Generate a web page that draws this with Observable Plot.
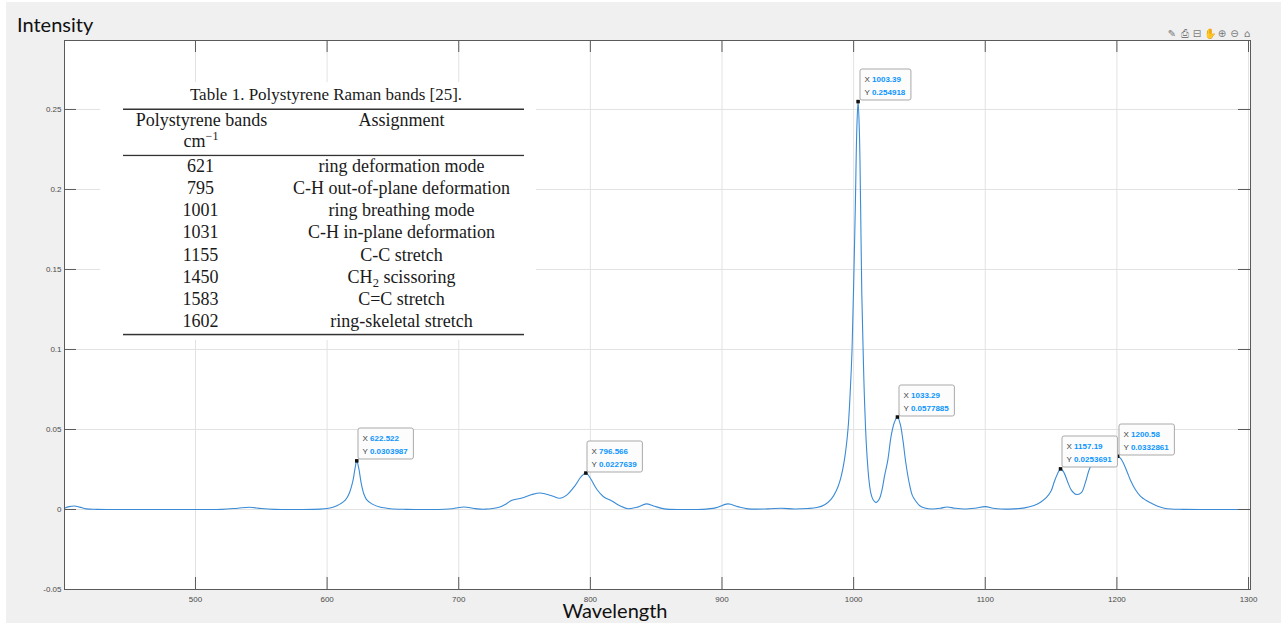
<!DOCTYPE html>
<html>
<head>
<meta charset="utf-8">
<script src="https://cdn.jsdelivr.net/npm/d3@7"></script>
<script src="https://cdn.jsdelivr.net/npm/@observablehq/plot@0.6"></script>
<style>
  html, body { margin: 0; padding: 0; background: #ffffff; width: 1281px; height: 627px; overflow: hidden; }
  #bg { position: absolute; left: 6px; top: 2px; width: 1275px; height: 621px; background: #f0f0f0; }
  #chart { position: absolute; left: 0; top: 0; }
  #overlay { position: absolute; left: 0; top: 0; pointer-events: none; }
</style>
</head>
<body>
<div id="bg"></div>
<div id="chart"></div>
<script>
// ---------- data ----------
const wavenumber = [
  400.5, 404, 408, 412, 417, 425, 440, 460, 480, 500, 520, 532, 541, 550, 560, 580, 595,
  600, 605, 610, 614, 617, 619.5, 621.5, 622.5, 624, 626, 628, 630, 634, 640, 648, 660, 680,
  695, 704, 712, 720, 730, 736, 740, 748, 755, 762, 770, 777, 782, 788, 793, 796.6, 800, 805,
  810, 816, 822, 828.5, 836, 842.5, 848, 856, 870, 885, 895, 904.5, 912, 920, 935, 945, 955,
  965, 972, 978, 983, 987, 990, 993, 995.7, 997.5, 998.8, 1000, 1001.3, 1002.5, 1003.4, 1004.4,
  1005.3, 1006.2, 1007.2, 1008, 1009.1, 1010.3, 1011.6, 1013, 1014.7, 1017, 1019.5, 1021.5,
  1023.5, 1026, 1028.5, 1031, 1033.3, 1035.5, 1037.5, 1039.5, 1042, 1044.5, 1047, 1050, 1054,
  1060, 1066, 1071, 1077, 1084, 1092, 1100, 1106, 1112, 1122, 1130, 1137, 1142, 1146.5, 1150,
  1152.5, 1155, 1157.2, 1159.5, 1162.4, 1165.5, 1169.3, 1173, 1176.3, 1179, 1182, 1185, 1189,
  1193, 1197, 1200.6, 1203, 1205.5, 1208, 1210.5, 1214, 1218, 1222, 1226, 1231, 1236, 1241,
  1250, 1270, 1290, 1301.5
];
const intensity = [
  0.0008, 0.0018, 0.0022, 0.0015, 0.0004, 0.0001, 0, 0, 0, 0, 0.0001, 0.0008, 0.0014, 0.0006, 0.0001, 0, 0.0002,
  0.0006, 0.0015, 0.0035, 0.006, 0.0105, 0.0175, 0.027, 0.0304, 0.026, 0.016, 0.0095, 0.0062, 0.0035, 0.0015, 0.0005, 0.0001, 0,
  0.0005, 0.0016, 0.0006, 0.0002, 0.0012, 0.0035, 0.0056, 0.0072, 0.0092, 0.0103, 0.0088, 0.007, 0.009, 0.0145, 0.0205, 0.0228, 0.0195, 0.0125,
  0.008, 0.0055, 0.0025, 0.0005, 0.0015, 0.0035, 0.0022, 0.0004, 0, 0.0001, 0.001, 0.0035, 0.0018, 0.0004, 0.0004, 0.0008, 0.0003,
  0.0006, 0.0012, 0.003, 0.0065, 0.012, 0.019, 0.031, 0.05, 0.075, 0.1, 0.14, 0.19, 0.24, 0.2549, 0.235,
  0.19, 0.135, 0.1, 0.075, 0.05, 0.032, 0.0187, 0.0105, 0.0062, 0.0043, 0.0065, 0.012,
  0.021, 0.031, 0.046, 0.0545, 0.0578, 0.053, 0.043, 0.03, 0.0175, 0.009, 0.0055, 0.0025, 0.0009,
  0.0003, 0.0008, 0.0016, 0.0008, 0.0003, 0.0008, 0.0018, 0.0008, 0.0003, 0.0004, 0.001, 0.0025, 0.0045, 0.0075, 0.0115,
  0.0175, 0.0225, 0.0254, 0.0235, 0.0177, 0.012, 0.0094, 0.0105, 0.0175, 0.025, 0.0295, 0.029, 0.0268,
  0.029, 0.0322, 0.0333, 0.0318, 0.028, 0.023, 0.018, 0.0125, 0.0082, 0.0058, 0.004, 0.002, 0.0008, 0.0003,
  0.0001, 0, 0, 0
];

const tipX = [622.522, 796.566, 1003.39, 1033.29, 1157.19, 1200.58];
const tipY = [0.0303987, 0.0227639, 0.254918, 0.0577885, 0.0253691, 0.0332861];
const tipXLabel = ["622.522", "796.566", "1003.39", "1033.29", "1157.19", "1200.58"];
const tipYLabel = ["0.0303987", "0.0227639", "0.254918", "0.0577885", "0.0253691", "0.0332861"];

const xTicks = [500, 600, 700, 800, 900, 1000, 1100, 1200, 1300];
const yTicks = [-0.05, 0, 0.05, 0.1, 0.15, 0.2, 0.25];
const yTickLabels = ["-0.05", "0", "0.05", "0.1", "0.15", "0.2", "0.25"];

const tableTitle = "Table 1. Polystyrene Raman bands [25].";
const bands = ["621", "795", "1001", "1031", "1155", "1450", "1583", "1602"];
const assignments = ["ring deformation mode", "C-H out-of-plane deformation", "ring breathing mode",
  "C-H in-plane deformation", "C-C stretch", "CH|2| scissoring", "C=C stretch", "ring-skeletal stretch"];

const xLabel = "Wavelength";
const yLabel = "Intensity";

// ---------- chart ----------
const spectrum = wavenumber.map((x, i) => ({x, y: intensity[i]}));
const tips = tipX.map((x, i) => ({x, y: tipY[i], lx: tipXLabel[i], ly: tipYLabel[i]}));

const W = 1281, Hh = 627, mL = 64, mR = 31, mT = 40, mB = 38;
const innerW = W - mL - mR, innerH = Hh - mT - mB;
const tickLen = 12;
const axisGray = "#5a5a5a";
const gridGray = "#e2e2e2";

const measureCtx = document.createElement("canvas").getContext("2d");
measureCtx.font = "bold 8px 'Liberation Sans', Arial, sans-serif";

function drawTip(sel, px, py, lx, ly) {
  const l1w = measureCtx.measureText("X " + lx).width;
  const l2w = measureCtx.measureText("Y " + ly).width;
  const w = Math.max(l1w, l2w) + 10;
  const h = 31;
  const x0 = Math.round(px + 1), y0 = Math.round(py - 2 - h);
  const g = sel.append("g").attr("class", "tipbox");
  g.append("rect").attr("x", x0 + 0.5).attr("y", y0 + 0.5).attr("width", w).attr("height", h)
    .attr("rx", 2).attr("fill", "#fcfcfc").attr("stroke", "#a9a9a9").attr("stroke-width", 1);
  const t1 = g.append("text").attr("x", x0 + 5).attr("y", y0 + 13.5).attr("text-anchor", "start")
    .attr("font-family", "'Liberation Sans', Arial, sans-serif").attr("font-size", 8);
  t1.append("tspan").attr("fill", "#404040").text("X ");
  t1.append("tspan").attr("fill", "#0a95ff").attr("font-weight", "bold").text(lx);
  const t2 = g.append("text").attr("x", x0 + 5).attr("y", y0 + 26).attr("text-anchor", "start")
    .attr("font-family", "'Liberation Sans', Arial, sans-serif").attr("font-size", 8);
  t2.append("tspan").attr("fill", "#404040").text("Y ");
  t2.append("tspan").attr("fill", "#0a95ff").attr("font-weight", "bold").text(ly);
}

function tipRender(index, scales, values, dimensions, context, next) {
  const g = next(index, scales, values, dimensions, context);
  const sel = d3.select(g);
  for (const i of index) drawTip(sel, values.x[i], values.y[i], tips[i].lx, tips[i].ly);
  return g;
}

const chart = Plot.plot({
  width: W, height: Hh,
  marginLeft: mL, marginRight: mR, marginTop: mT, marginBottom: mB,
  x: {domain: [400.5, 1301.5]},
  y: {domain: [-0.05, 0.2931]},
  style: {background: "transparent", fontFamily: "'Liberation Sans', Arial, sans-serif", fontSize: "8px"},
  marks: [
    Plot.frame({fill: "white", stroke: null}),
    Plot.ruleX(xTicks, {stroke: gridGray, strokeWidth: 1}),
    Plot.ruleY(yTicks, {stroke: gridGray, strokeWidth: 1}),
    Plot.line(spectrum, {x: "x", y: "y", stroke: "#3a8bd6", strokeWidth: 1.1, curve: "catmull-rom"}),
    Plot.dot(tips, {x: "x", y: "y", symbol: "square", r: 2, fill: "#111", stroke: null, render: tipRender}),
    // inward ticks (all four sides)
    Plot.ruleX(xTicks, {stroke: axisGray, insetTop: innerH - tickLen}),
    Plot.ruleX(xTicks, {stroke: axisGray, insetBottom: innerH - tickLen}),
    Plot.ruleY(yTicks, {stroke: axisGray, insetRight: innerW - tickLen}),
    Plot.ruleY(yTicks, {stroke: axisGray, insetLeft: innerW - tickLen}),
    Plot.axisX({ticks: xTicks, tickSize: 0, tickPadding: 7, tickFormat: d => String(d), fill: "#4a4a4a", fontSize: 8, label: null}),
    Plot.axisY({ticks: yTicks, tickSize: 0, tickPadding: 3, tickFormat: d => yTickLabels[yTicks.indexOf(d)], fill: "#4a4a4a", fontSize: 8, label: null}),
    Plot.frame({stroke: axisGray, strokeWidth: 1})
  ]
});
document.getElementById("chart").appendChild(chart);

// fallback if render transform unsupported
if (!chart.querySelector(".tipbox")) {
  const sx = chart.scale("x"), sy = chart.scale("y");
  const sel = d3.select(chart).append("g");
  tips.forEach(t => drawTip(sel, sx.apply(t.x), sy.apply(t.y), t.lx, t.ly));
}

// ---------- overlay: axis titles, table, toolbar ----------
const ov = d3.select("body").append("svg").attr("id", "overlay").attr("width", W).attr("height", Hh);

ov.append("text").attr("x", 17).attr("y", 32).attr("font-family", "Lato, 'Open Sans', sans-serif")
  .attr("font-size", 20).attr("fill", "#111").text(yLabel);
ov.append("text").attr("x", 615).attr("y", 618).attr("text-anchor", "middle")
  .attr("font-family", "Lato, 'Open Sans', sans-serif").attr("font-size", 20).attr("fill", "#111").text(xLabel);

// table
const tb = ov.append("g").attr("font-family", "'Liberation Serif', 'Times New Roman', serif").attr("fill", "#1a1a1a");
tb.append("rect").attr("x", 100).attr("y", 82).attr("width", 436).attr("height", 258).attr("fill", "white");
tb.append("text").attr("x", 326).attr("y", 100).attr("text-anchor", "middle").attr("font-size", 17).text(tableTitle);
tb.append("rect").attr("x", 123).attr("y", 108.5).attr("width", 401).attr("height", 1.5).attr("fill", "#333");
tb.append("text").attr("x", 201.5).attr("y", 125.5).attr("text-anchor", "middle").attr("font-size", 18).text("Polystyrene bands");
const cm = tb.append("text").attr("x", 201).attr("y", 146.7).attr("text-anchor", "middle").attr("font-size", 18);
cm.append("tspan").text("cm");
cm.append("tspan").attr("dy", -7).attr("font-size", 12).text("\u22121");
tb.append("text").attr("x", 401.5).attr("y", 125.5).attr("text-anchor", "middle").attr("font-size", 18).text("Assignment");
tb.append("rect").attr("x", 123).attr("y", 154.8).attr("width", 401).attr("height", 1.3).attr("fill", "#333");
bands.forEach((b, i) => {
  const yb = 171.7 + i * 22.2;
  tb.append("text").attr("x", 200.5).attr("y", yb).attr("text-anchor", "middle").attr("font-size", 18).text(b);
  const parts = assignments[i].split("|");
  const t = tb.append("text").attr("x", 401.5).attr("y", yb).attr("text-anchor", "middle").attr("font-size", 18);
  t.append("tspan").text(parts[0]);
  if (parts.length > 1) {
    t.append("tspan").attr("dy", 4).attr("font-size", 12.5).text(parts[1]);
    t.append("tspan").attr("dy", -4).text(parts[2]);
  }
});
tb.append("rect").attr("x", 123).attr("y", 333.8).attr("width", 401).attr("height", 1.5).attr("fill", "#333");

// toolbar glyphs
const icons = ["\u270E", "\u2399", "\u229F", "\u270B", "\u2295", "\u2296", "\u2302"];
icons.forEach((c, i) => {
  ov.append("text").attr("x", 1172 + i * 12.5).attr("y", 37).attr("text-anchor", "middle")
    .attr("font-family", "'DejaVu Sans', sans-serif").attr("font-size", 10).attr("fill", "#7a7a7a").text(c);
});
</script>
</body>
</html>
